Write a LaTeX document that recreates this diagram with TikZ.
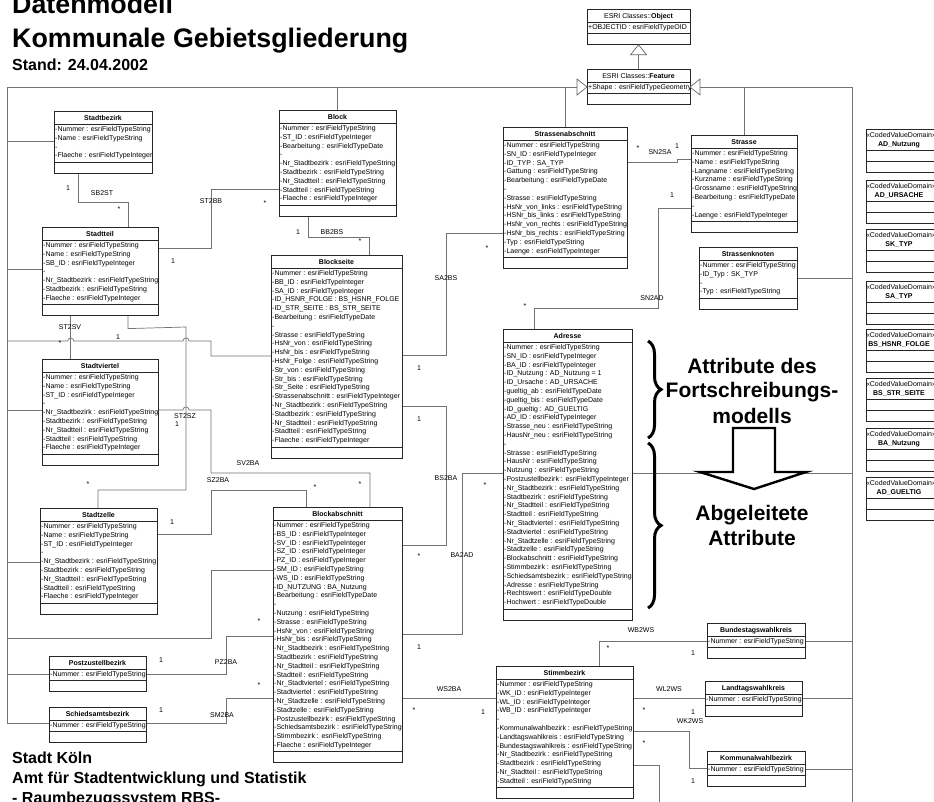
\documentclass[tikz,border=0pt]{standalone}
\usepackage{fontspec}
\setmainfont{Liberation Sans}
\usetikzlibrary{calc,decorations.pathreplacing}
\pgfdeclarelayer{bg}
\pgfsetlayers{bg,main}
\tikzset{
  clsbox/.style={draw=black!85, line width=0.7pt, fill=white, inner sep=0pt, outer sep=0pt},
  clssep/.style={draw=black!85, line width=0.7pt},
  clstitle/.style={anchor=base, inner sep=0pt, font=\fontsize{7}{8}\selectfont\bfseries},
  clsattr/.style={anchor=north west, inner sep=0pt, align=left, font=\fontsize{7}{8.8}\selectfont},
  conn/.style={draw=black!55, line width=0.7pt},
  lbl/.style={inner sep=0pt, font=\fontsize{7}{8}\selectfont},
  gentri/.style={draw=black!60, line width=0.7pt, fill=white},
  bigtxt/.style={anchor=base, inner sep=0pt, font=\fontsize{21}{25}\selectfont\bfseries},
  headtxt/.style={font=\fontsize{26.8}{30}\selectfont\bfseries, inner sep=0pt, anchor=base west},
  foottxt/.style={font=\fontsize{16}{20}\selectfont\bfseries, inner sep=0pt, anchor=base west},
}
% name, x, y, width, title, number of attribute lines, lines
\newcommand\ucls[7]{%
  \node[clsbox,minimum width=#4pt,minimum height={27pt+#6*8.8pt},anchor=north west] (#1) at (#2,#3) {};
  \draw[clssep] (#2,#3+13) -- (#2+#4,#3+13);
  \draw[clssep] (#2,#3+16+#6*8.8) -- (#2+#4,#3+16+#6*8.8);
  \node[clstitle] at (#2+#4/2,#3+9) {#5};
  \node[clsattr] at (#2+1,#3+15.3) {#7};
}
\begin{document}
\begin{tikzpicture}[x=1pt,y=-1pt]
\useasboundingbox (0,0) rectangle (934,801);
\begin{pgfonlayer}{bg}
\fill[white] (0,0) rectangle (934,801);
\end{pgfonlayer}

% ---------- titles ----------
\node[headtxt] (h1) at (12,13) {Datenmodell};
\node[headtxt] (h2) at (12,47) {Kommunale Gebietsgliederung};
\node[foottxt] (h3) at (12,70) {Stand: 24.04.2002};
\node[foottxt] (f1) at (12,763) {Stadt Köln};
\node[foottxt] (f2) at (12,783) {Amt für Stadtentwicklung und Statistik};
\node[foottxt] (f3) at (12,803) {- Raumbezugssystem RBS-};

% ---------- classes ----------
\ucls{obj}{587}{9}{103}{{\mdseries ESRI Classes::}Object}{1}{+OBJECTID : esriFieldTypeOID}
\ucls{feat}{587}{69}{103}{{\mdseries ESRI Classes::}Feature}{1}{+Shape : esriFieldTypeGeometry}

\ucls{sbz}{54}{111}{98}{Stadtbezirk}{4}{-Nummer : esriFieldTypeString\\-Name : esriFieldTypeString\\-\\-Flaeche : esriFieldTypeInteger}

\ucls{stt}{42}{227}{116}{Stadtteil}{7}{-Nummer : esriFieldTypeString\\-Name : esriFieldTypeString\\-SB\_ID : esriFieldTypeInteger\\-\\-Nr\_Stadtbezirk : esriFieldTypeString\\-Stadtbezirk : esriFieldTypeString\\-Flaeche : esriFieldTypeInteger}

\ucls{svt}{42}{359}{116}{Stadtviertel}{9}{-Nummer : esriFieldTypeString\\-Name : esriFieldTypeString\\-ST\_ID : esriFieldTypeInteger\\-\\-Nr\_Stadtbezirk : esriFieldTypeString\\-Stadtbezirk : esriFieldTypeString\\-Nr\_Stadtteil : esriFieldTypeString\\-Stadtteil : esriFieldTypeString\\-Flaeche : esriFieldTypeInteger}

\ucls{szl}{40}{508}{117}{Stadtzelle}{9}{-Nummer : esriFieldTypeString\\-Name : esriFieldTypeString\\-ST\_ID : esriFieldTypeInteger\\-\\-Nr\_Stadtbezirk : esriFieldTypeString\\-Stadtbezirk : esriFieldTypeString\\-Nr\_Stadtteil : esriFieldTypeString\\-Stadtteil : esriFieldTypeString\\-Flaeche : esriFieldTypeInteger}

\ucls{pzb}{49}{656}{97}{Postzustellbezirk}{1}{-Nummer : esriFieldTypeString}
\ucls{smb}{49}{707}{97}{Schiedsamtsbezirk}{1}{-Nummer : esriFieldTypeString}

\ucls{blk}{279}{110}{117}{Block}{9}{-Nummer : esriFieldTypeString\\-ST\_ID : esriFieldTypeInteger\\-Bearbeitung : esriFieldTypeDate\\-\\-Nr\_Stadtbezirk : esriFieldTypeString\\-Stadtbezirk : esriFieldTypeString\\-Nr\_Stadtteil : esriFieldTypeString\\-Stadtteil : esriFieldTypeString\\-Flaeche : esriFieldTypeInteger}

\ucls{bls}{271}{255}{131}{Blockseite}{20}{-Nummer : esriFieldTypeString\\-BB\_ID : esriFieldTypeInteger\\-SA\_ID : esriFieldTypeInteger\\-ID\_HSNR\_FOLGE : BS\_HSNR\_FOLGE\\-ID\_STR\_SEITE : BS\_STR\_SEITE\\-Bearbeitung : esriFieldTypeDate\\-\\-Strasse : esriFieldTypeString\\-HsNr\_von : esriFieldTypeString\\-HsNr\_bis : esriFieldTypeString\\-HsNr\_Folge : esriFieldTypeString\\-Str\_von : esriFieldTypeString\\-Str\_bis : esriFieldTypeString\\-Str\_Seite : esriFieldTypeString\\-Strassenabschnitt : esriFieldTypeInteger\\-Nr\_Stadtbezirk : esriFieldTypeString\\-Stadtbezirk : esriFieldTypeString\\-Nr\_Stadtteil : esriFieldTypeString\\-Stadtteil : esriFieldTypeString\\-Flaeche : esriFieldTypeInteger}

\ucls{bla}{273}{507}{129}{Blockabschnitt}{26}{-Nummer : esriFieldTypeString\\-BS\_ID : esriFieldTypeInteger\\-SV\_ID : esriFieldTypeInteger\\-SZ\_ID : esriFieldTypeInteger\\-PZ\_ID : esriFieldTypeInteger\\-SM\_ID : esriFieldTypeString\\-WS\_ID : esriFieldTypeString\\-ID\_NUTZUNG : BA\_Nutzung\\-Bearbeitung : esriFieldTypeDate\\-\\-Nutzung : esriFieldTypeString\\-Strasse : esriFieldTypeString\\-HsNr\_von : esriFieldTypeString\\-HsNr\_bis : esriFieldTypeString\\-Nr\_Stadtbezirk : esriFieldTypeString\\-Stadtbezirk : esriFieldTypeString\\-Nr\_Stadtteil : esriFieldTypeString\\-Stadtteil : esriFieldTypeString\\-Nr\_Stadtviertel : esriFieldTypeString\\-Stadtviertel : esriFieldTypeString\\-Nr\_Stadtzelle : esriFieldTypeString\\-Stadtzelle : esriFieldTypeString\\-Postzustellbezirk : esriFieldTypeString\\-Schiedsamtsbezirk : esriFieldTypeString\\-Stimmbezirk : esriFieldTypeString\\-Flaeche : esriFieldTypeInteger}

\ucls{sab}{503}{127}{124}{Strassenabschnitt}{13}{-Nummer : esriFieldTypeString\\-SN\_ID : esriFieldTypeInteger\\-ID\_TYP : SA\_TYP\\-Gattung : esriFieldTypeString\\-Bearbeitung : esriFieldTypeDate\\-\\-Strasse : esriFieldTypeString\\-HsNr\_von\_links : esriFieldTypeString\\-HSNr\_bis\_links : esriFieldTypeString\\-HsNr\_von\_rechts : esriFieldTypeString\\-HsNr\_bis\_rechts : esriFieldTypeString\\-Typ : esriFieldTypeString\\-Laenge : esriFieldTypeInteger}

\ucls{str}{691}{135}{106}{Strasse}{8}{-Nummer : esriFieldTypeString\\-Name : esriFieldTypeString\\-Langname : esriFieldTypeString\\-Kurzname : esriFieldTypeString\\-Grossname : esriFieldTypeString\\-Bearbeitung : esriFieldTypeDate\\-\\-Laenge : esriFieldTypeInteger}

\ucls{skn}{699}{247}{98}{Strassenknoten}{4}{-Nummer : esriFieldTypeString\\-ID\_Typ : SK\_TYP\\-\\-Typ : esriFieldTypeString}

\ucls{adr}{503}{329}{129}{Adresse}{30}{-Nummer : esriFieldTypeString\\-SN\_ID : esriFieldTypeInteger\\-BA\_ID : esriFieldTypeInteger\\-ID\_Nutzung : AD\_Nutzung = 1\\-ID\_Ursache : AD\_URSACHE\\-gueltig\_ab : esriFieldTypeDate\\-gueltig\_bis : esriFieldTypeDate\\-ID\_gueltig : AD\_GUELTIG\\-AD\_ID : esriFieldTypeInteger\\-Strasse\_neu : esriFieldTypeString\\-HausNr\_neu : esriFieldTypeString\\-\\-Strasse : esriFieldTypeString\\-HausNr : esriFieldTypeString\\-Nutzung : esriFieldTypeString\\-Postzustellbezirk : esriFieldTypeInteger\\-Nr\_Stadtbezirk : esriFieldTypeString\\-Stadtbezirk : esriFieldTypeString\\-Nr\_Stadtteil : esriFieldTypeString\\-Stadtteil : esriFieldTypeString\\-Nr\_Stadtviertel : esriFieldTypeString\\-Stadtviertel : esriFieldTypeString\\-Nr\_Stadtzelle : esriFieldTypeString\\-Stadtzelle : esriFieldTypeString\\-Blockabschnitt : esriFieldTypeString\\-Stimmbezirk : esriFieldTypeString\\-Schiedsamtsbezirk : esriFieldTypeString\\-Adresse : esriFieldTypeString\\-Rechtswert : esriFieldTypeDouble\\-Hochwert : esriFieldTypeDouble}

\ucls{stb}{496}{666}{137}{Stimmbezirk}{12}{-Nummer : esriFieldTypeString\\-WK\_ID : esriFieldTypeInteger\\-WL\_ID : esriFieldTypeInteger\\-WB\_ID : esriFieldTypeInteger\\-\\-Kommunalwahlbezirk : esriFieldTypeString\\-Landtagswahlkreis : esriFieldTypeString\\-Bundestagswahlkreis : esriFieldTypeString\\-Nr\_Stadtbezirk : esriFieldTypeString\\-Stadtbezirk : esriFieldTypeString\\-Nr\_Stadtteil : esriFieldTypeString\\-Stadtteil : esriFieldTypeString}

\ucls{btw}{707}{623}{98}{Bundestagswahlkreis}{1}{-Nummer : esriFieldTypeString}
\ucls{ltw}{705}{681}{97}{Landtagswahlkreis}{1}{-Nummer : esriFieldTypeString}
\ucls{kwb}{707}{751}{98}{Kommunalwahlbezirk}{1}{-Nummer : esriFieldTypeString}

% ---------- coded value domains ----------
\foreach \t/\n in {129/AD\_Nutzung,180/AD\_URSACHE,229/SK\_TYP,281/SA\_TYP,329/BS\_HSNR\_FOLGE,378/BS\_STR\_SEITE,428/BA\_Nutzung,477/AD\_GUELTIG}{
  \node[clsbox,minimum width=72pt,minimum height=43pt,anchor=north west] (cvd\t) at (866,\t) {};
  \draw[clssep] (866,\t+21) -- (938,\t+21);
  \draw[clssep] (866,\t+32) -- (938,\t+32);
  \node[lbl,anchor=base] at (901,\t+8) {«CodedValueDomain»};
  \node[clstitle] at (899,\t+17.5) {\n};
}

% ---------- generalization triangles ----------
\draw[gentri] (obj.south) -- ++(8,10) -- ++(-16,0) -- cycle;
\draw[gentri] ($(feat.north west)+(0,18)$) -- ++(-10,-8) -- ++(0,16) -- cycle;
\draw[gentri] ($(feat.north east)+(0,18)$) -- ++(10,-8) -- ++(0,16) -- cycle;

% ---------- connectors ----------
\begin{pgfonlayer}{bg}
% inheritance tree
\draw[conn] ($(obj.south)+(0,10)$) -- (feat.north);
\draw[conn] ($(smb.north west)+(0,16)$) -| (7,87) -- ($(feat.north west)+(-10,18)$);
\draw[conn] ($(feat.north east)+(10,18)$) -- (852,87) -- (852,812);
\draw[conn] ($(sbz.north west)+(0,30)$) -- +(-47,0);
\draw[conn] ($(stt.north west)+(0,42)$) -- +(-35,0);
\draw[conn] ($(svt.north west)+(0,51)$) -- +(-35,0);
\draw[conn] ($(szl.north west)+(0,54)$) -- +(-33,0);
\draw[conn] ($(pzb.north west)+(0,18)$) -- +(-42,0);
\draw[conn] ($(bls.north west)+(0,101)$) -- (211,356) -- (211,341) -- (189,341)
   .. controls (189,337) and (183,337) .. (183,341) -- (73.7,341)
   .. controls (73.7,337) and (67.7,337) .. (67.7,341) -- (7,341);
\draw[conn] ($(bla.north west)+(0,63)$) -- (211,570) -- (211,638) -- (7,638);
\draw[conn] (blk.north) -- ++(0,-23);
\draw[conn] (sab.north) -- ++(0,-40);
\draw[conn] (str.north) -- ++(0,-48);
\draw[conn] ($(skn.north east)+(0,31)$) -- +(55,0);
\draw[conn] ($(adr.north east)+(0,144)$) -- +(220,0);
\draw[conn] ($(btw.north east)+(0,18)$) -- +(47,0);
\draw[conn] ($(ltw.north east)+(0,17)$) -- +(50,0);
\draw[conn] ($(kwb.north east)+(0,18)$) -- +(47,0);
\draw[conn] ($(stb.north east)+(0,99)$) -- ++(26,0) -- ++(0,50);
% associations
\draw[conn] ($(sbz.south west)+(24,0)$) -- ++(0,29) -| ($(stt.north west)+(86,0)$);
\draw[conn] ($(stt.north east)+(0,21)$) -- (211,248) |- ($(blk.north west)+(0,79)$);
\draw[conn] ($(stt.south west)+(28.7,0)$) -- ($(svt.north west)+(28.7,0)$);
\draw[conn] ($(stt.south west)+(86,0)$) -- ++(0,13) -- (186,327) -- (186,490) -| ($(szl.north west)+(58,0)$);
\draw[conn] ($(svt.north east)+(0,51)$) -- (183,410) .. controls (183,406) and (189,406) .. (189,410)
   -- (211,410) -- (211,473) -| ($(bla.north west)+(97,0)$);
\draw[conn] ($(szl.north east)+(0,26)$) -- (211,534) -- (211,490) -| ($(bla.north west)+(33,0)$);
\draw[conn] ($(blk.south west)+(29,0)$) -- ++(0,21) -| ($(bls.north west)+(98,0)$);
\draw[conn] ($(bls.north east)+(0,100)$) -- (446,355) |- ($(sab.north west)+(0,106)$);
\draw[conn] ($(bls.north east)+(0,151)$) -- (446,406) |- ($(bla.north east)+(0,38)$);
\draw[conn] ($(bla.north east)+(0,127)$) -- (462,634) |- ($(adr.north west)+(0,144)$);
\draw[conn] ($(sab.north east)+(0,35)$) -- (677,162) -- (677,159) -- ($(str.north west)+(0,24)$);
\draw[conn] ($(str.north west)+(0,73)$) -- (658,208) -- (658,308) -| ($(adr.north west)+(31,0)$);
\draw[conn] ($(pzb.north east)+(0,18)$) -- (226,674) |- ($(bla.north west)+(0,129)$);
\draw[conn] ($(smb.north east)+(0,16)$) -- (226,723) |- ($(bla.north west)+(0,191)$);
\draw[conn] ($(stb.north west)+(0,32)$) -- ($(bla.north east)+(0,191)$);
\draw[conn] ($(stb.north west)+(103,0)$) |- ($(btw.north west)+(0,18)$);
\draw[conn] ($(stb.north east)+(0,32)$) -- ($(ltw.north west)+(0,17)$);
\draw[conn] ($(stb.north east)+(0,65)$) -- (689,731) |- ($(kwb.north west)+(0,17)$);
\end{pgfonlayer}

% ---------- association labels ----------
\node[lbl] at (68,188) {1};  \node[lbl] at (102,193) {SB2ST}; \node[lbl] at (119,209) {*};
\node[lbl] at (211,201) {ST2BB}; \node[lbl] at (265,203) {*}; \node[lbl] at (173,261) {1};
\node[lbl] at (70,327) {ST2SV}; \node[lbl] at (60,343) {*}; \node[lbl] at (118,337) {1};
\node[lbl] at (185,416) {ST2SZ}; \node[lbl] at (177,424) {1}; \node[lbl] at (88,484) {*};
\node[lbl] at (248,463) {SV2BA}; \node[lbl] at (360,484) {*};
\node[lbl] at (218,480) {SZ2BA}; \node[lbl] at (172,522) {1}; \node[lbl] at (315,487) {*};
\node[lbl] at (298,232) {1}; \node[lbl] at (332,232) {BB2BS}; \node[lbl] at (360,241) {*};
\node[lbl] at (446,278) {SA2BS}; \node[lbl] at (419,368) {1}; \node[lbl] at (487,248) {*};
\node[lbl] at (446,478) {BS2BA}; \node[lbl] at (419,419) {1}; \node[lbl] at (419,556) {*};
\node[lbl] at (462,555) {BA2AD}; \node[lbl] at (419,647) {1}; \node[lbl] at (485,485) {*};
\node[lbl] at (638,148) {*}; \node[lbl] at (660,152) {SN2SA}; \node[lbl] at (677,146) {1};
\node[lbl] at (652,298) {SN2AD}; \node[lbl] at (672,195) {1}; \node[lbl] at (525,306) {*};
\node[lbl] at (226,662) {PZ2BA}; \node[lbl] at (161,660) {1}; \node[lbl] at (259,621) {*};
\node[lbl] at (222,715) {SM2BA}; \node[lbl] at (161,710) {1}; \node[lbl] at (259,685) {*};
\node[lbl] at (449,689) {WS2BA}; \node[lbl] at (414,710) {*}; \node[lbl] at (483,712) {1};
\node[lbl] at (641,630) {WB2WS}; \node[lbl] at (608,648) {*}; \node[lbl] at (693,653) {1};
\node[lbl] at (669,689) {WL2WS}; \node[lbl] at (644,710) {*}; \node[lbl] at (693,712) {1};
\node[lbl] at (690,721) {WK2WS}; \node[lbl] at (644,743) {*}; \node[lbl] at (693,781) {1};

% ---------- annotation ----------
\draw[line width=3pt, decorate, decoration={brace, amplitude=13pt}] (648,341) -- (648,438);
\draw[line width=3pt, decorate, decoration={brace, amplitude=13pt}] (648,443) -- (648,608);
\node[bigtxt] (a1) at (752,373) {Attribute des};
\node[bigtxt] (a2) at (752,397) {Fortschreibungs-};
\node[bigtxt] (a3) at (752,423) {modells};
\draw[line width=2.4pt, fill=white, line join=miter] (733,428) -- (775,428) -- (775,472) -- (806,472) -- (754,489) -- (700,472) -- (733,472) -- cycle;
\node[bigtxt] (a4) at (752,520) {Abgeleitete};
\node[bigtxt] (a5) at (752,545) {Attribute};
\end{tikzpicture}
\end{document}
